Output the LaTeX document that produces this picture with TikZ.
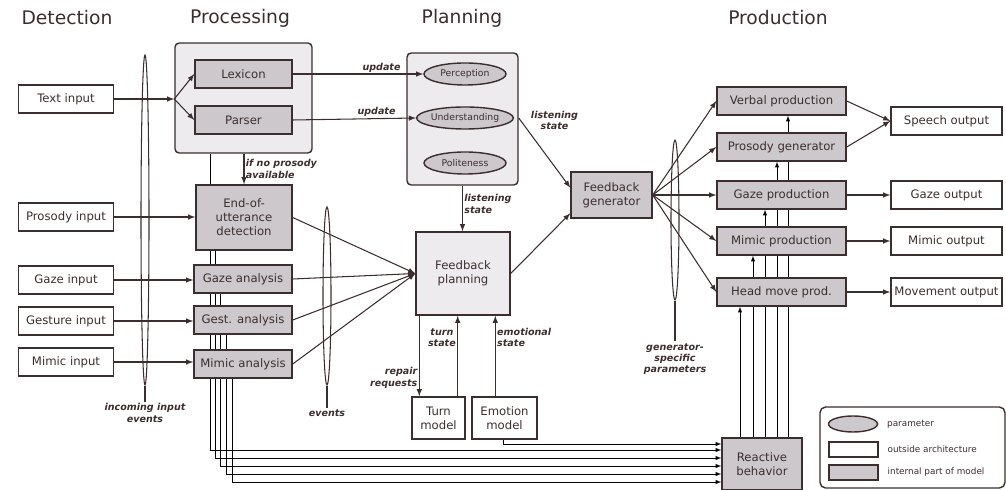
\documentclass[tikz,border=0pt]{standalone}
\usepackage{fontspec}
\setmainfont{DejaVu Sans}
\usetikzlibrary{positioning,shapes.geometric,backgrounds}
\definecolor{ink}{RGB}{60,46,46}
\definecolor{modelgray}{RGB}{204,200,204}
\definecolor{groupgray}{RGB}{237,235,237}

\begin{document}
\begin{tikzpicture}[x=0.025cm, y=-0.025cm, line width=0.75pt, color=ink,
      outside/.style = {draw, fill=white, line width=1pt, minimum height=0.7cm,
        inner sep=1pt, align=center, font=\fontsize{8.3}{10}\selectfont},
      internal/.style = {outside, fill=modelgray},
      input/.style = {outside, minimum width=2.375cm},
      analysis/.style = {internal, minimum width=2.45cm},
      prod/.style = {internal, minimum width=3.225cm},
      output/.style = {outside, minimum width=2.775cm},
      group/.style = {draw, fill=groupgray, line width=1pt, rounded corners=3pt},
      param/.style = {draw, ellipse, fill=modelgray, line width=1pt, minimum width=2.05cm,
        minimum height=0.55cm, inner sep=0pt, font=\fontsize{6.6}{7}\selectfont},
      hint/.style = {draw, ellipse, minimum width=0.2cm, inner sep=0pt},
      lbl/.style = {font=\fontsize{6.8}{8}\selectfont\bfseries\itshape, align=center, inner sep=1pt},
      legtxt/.style = {font=\fontsize{6.3}{7}\selectfont, inner sep=0pt},
      head/.style = {font=\fontsize{13.3}{15}\selectfont},
      arrow/.style = {-latex}]
    \useasboundingbox (0,0) rectangle (1006,490);

    % headers
    \node[head] (hdet) at (67,18) {Detection};
    \node[head] (hproc) at (240,18) {Processing};
    \node[head] (hplan) at (462,18) {Planning};
    \node[head] (hprod) at (778,18) {Production};

    % groups
    \node[group, minimum width=3.425cm, minimum height=2.75cm] (proc) at (243.5,98) {};
    \node[group, minimum width=2.775cm, minimum height=3.3cm] (plan) at (462.5,119) {};

    % detection
    \node[input] (text) at (66,99) {Text input};
    \node[input] (prosody) at (66,217) {Prosody input};
    \node[input] (gaze) at (66,280) {Gaze input};
    \node[input] (gesture) at (66,321) {Gesture input};
    \node[input] (mimic) at (66,362) {Mimic input};

    % processing
    \node[internal, minimum width=2.425cm] (lexicon) at (243.5,74) {Lexicon};
    \node[internal, minimum width=2.425cm] (parser) at (243.5,120) {Parser};
    \node[internal, minimum width=2.4cm, minimum height=1.625cm] (eou) at (244,217.5) {End-of-\\utterance\\detection};
    \node[analysis] (gazean) at (243,279) {Gaze analysis};
    \node[analysis] (gestan) at (243,320) {Gest. analysis};
    \node[analysis] (mimican) at (243,364) {Mimic analysis};

    % planning
    \node[param] (perception) at (465,74) {Perception};
    \node[param] (understanding) at (465,118) {Understanding};
    \node[param] (politeness) at (465,163) {Politeness};
    \node[outside, fill=groupgray, minimum width=2.35cm, minimum height=2.075cm] (fplan) at (463,273.5) {Feedback\\planning};
    \node[outside, minimum width=1.325cm, minimum height=1.05cm] (turn) at (438.5,418) {Turn\\model};
    \node[outside, minimum width=1.625cm, minimum height=1.05cm] (emotion) at (504.5,418) {Emotion\\model};
    \node[internal, minimum width=2.025cm, minimum height=1.15cm] (fgen) at (611.5,195) {Feedback\\generator};

    % production
    \node[prod] (verbal) at (781.5,101) {Verbal production};
    \node[prod] (prosgen) at (781.5,147) {Prosody generator};
    \node[prod] (gazeprod) at (781.5,195) {Gaze production};
    \node[prod] (mimicprod) at (781.5,241) {Mimic production};
    \node[prod] (headprod) at (781.5,292) {Head move prod.};
    \node[output] (speech) at (946.5,121) {Speech output};
    \node[output] (gazeout) at (946.5,195) {Gaze output};
    \node[output] (mimicout) at (946.5,241) {Mimic output};
    \node[output] (moveout) at (946.5,292) {Movement output};
    \node[internal, minimum width=2cm, minimum height=1.3cm] (reactive) at (762,464) {Reactive\\behavior};

    % event groups
    \node[hint, minimum height=8.25cm] (inev) at (145,220) {};
    \node[lbl] (inevlbl) at (145,413) {incoming input\\events};
    \node[hint, minimum height=4.45cm] (ev) at (327,296) {};
    \node[lbl] (evlbl) at (327,413) {events};
    \node[hint, minimum height=4cm] (genpar) at (675,220) {};
    \node[lbl] (genparlbl) at (675,359) {generator-\\specific\\parameters};
    \draw (inev.south) -- (inevlbl.north);
    \draw (ev.south) -- (evlbl.north);
    \draw (genpar.south) -- (genparlbl.north);

    % legend
    \node[group, fill=white, rounded corners=4pt, minimum width=4.625cm, minimum height=2.025cm] (legend) at (912.5,447.5) {};
    \node[param, minimum width=1.225cm, minimum height=0.4cm] (lpar) at (853,424) {};
    \node[outside, minimum width=1.225cm, minimum height=0.375cm] (lout) at (853.5,449.5) {};
    \node[internal, minimum width=1.225cm, minimum height=0.375cm] (lint) at (853.5,472.5) {};
    \node[legtxt, right=6pt of lpar] (lpartxt) {parameter};
    \node[legtxt, right=6pt of lout] (louttxt) {outside architecture};
    \node[legtxt, right=6pt of lint] (linttxt) {internal part of model};

    % inputs
    \coordinate (split) at (proc.west |- text);
    \draw[arrow] (text) -- (split);
    \draw[arrow] (split) -- (lexicon.west);
    \draw[arrow] (split) -- (parser.west);
    \draw[arrow] (prosody) -- (eou.west |- prosody);
    \draw[arrow] (gaze) -- (gazean.west |- gaze);
    \draw[arrow] (gesture) -- (gestan.west |- gesture);
    \draw[arrow] (mimic) -- (mimican.west |- mimic);

    % processing to planning
    \draw[arrow] (lexicon) -- node[lbl, above, pos=0.68] {update} (perception);
    \draw[arrow] (parser.east) -- node[lbl, above, pos=0.68] {update} (understanding.west);
    \draw[arrow] (eou.north |- proc.south) -- node[lbl, right, align=left] {if no prosody\\available} (eou.north);
    \draw[arrow] (eou.east) -- (fplan.west);
    \draw[arrow] (gazean.east) -- (fplan.west);
    \draw[arrow] (gestan.east) -- (fplan.west);
    \draw[arrow] (mimican.east) -- (fplan.west);

    % planning
    \draw[arrow] (plan.south) -- node[lbl, right, align=left, pos=0.4] {listening\\state} (plan.south |- fplan.north);
    \draw[arrow] (plan.east |- understanding) -- node[lbl, pos=0.2, anchor=south west] {listening\\state} (fgen.170);
    \draw[arrow] (fplan.east) -- (fgen.204);
    \coordinate (rq) at ([xshift=0.1cm]fplan.south west);
    \coordinate (ts) at ([xshift=-0.2cm]turn.north east);
    \coordinate (es) at ([xshift=0.6cm]emotion.north west);
    \draw[arrow] (rq) -- node[lbl, left, align=right, pos=0.77] {repair\\requests} (rq |- turn.north);
    \draw[arrow] (ts) -- node[lbl, left, pos=0.73] {turn\\state} (ts |- fplan.south);
    \draw[arrow] (es) -- node[lbl, right, align=left, pos=0.73] {emotional\\state} (es |- fplan.south);

    % production
    \draw[arrow] (fgen.east) -- (verbal.west);
    \draw[arrow] (fgen.east) -- (prosgen.west);
    \draw[arrow] (fgen.east) -- (gazeprod.west);
    \draw[arrow] (fgen.east) -- (mimicprod.west);
    \draw[arrow] (fgen.east) -- (headprod.west);
    \draw[arrow] (verbal.east) -- (speech.west);
    \draw[arrow] (prosgen.east) -- (speech.west);
    \draw[arrow] (gazeprod) -- (gazeout);
    \draw[arrow] (mimicprod) -- (mimicout);
    \draw[arrow] (headprod) -- (moveout);

    % reactive behavior
    \begin{pgfonlayer}{background}
      \coordinate (b0) at (503,444);
      \coordinate (b1) at (210,450);
      \coordinate (b2) at (215,458);
      \coordinate (b3) at (220,466);
      \coordinate (b4) at (226,474);
      \coordinate (b5) at (232,482);
      \draw[arrow] (b0 |- emotion.south) -- (b0) -- (b0 -| reactive.west);
      \draw[arrow] (b1 |- proc.south) -- (b1) -- (b1 -| reactive.west);
      \draw[arrow] (b2 |- eou.south) -- (b2) -- (b2 -| reactive.west);
      \draw[arrow] (b3 |- gazean.south) -- (b3) -- (b3 -| reactive.west);
      \draw[arrow] (b4 |- gestan.south) -- (b4) -- (b4 -| reactive.west);
      \draw[arrow] (b5 |- mimican.south) -- (b5) -- (b5 -| reactive.west);
      \coordinate (u1) at (740,440);
      \coordinate (u2) at (753,440);
      \coordinate (u3) at (765,440);
      \coordinate (u4) at (777,440);
      \coordinate (u5) at (788,440);
      \draw[arrow] (u1 |- reactive.north) -- (u1 |- headprod.south);
      \draw[arrow] (u2 |- reactive.north) -- (u2 |- mimicprod.south);
      \draw[arrow] (u3 |- reactive.north) -- (u3 |- gazeprod.south);
      \draw[arrow] (u4 |- reactive.north) -- (u4 |- prosgen.south);
      \draw[arrow] (u5 |- reactive.north) -- (u5 |- verbal.south);
    \end{pgfonlayer}
  \end{tikzpicture}
\end{document}
